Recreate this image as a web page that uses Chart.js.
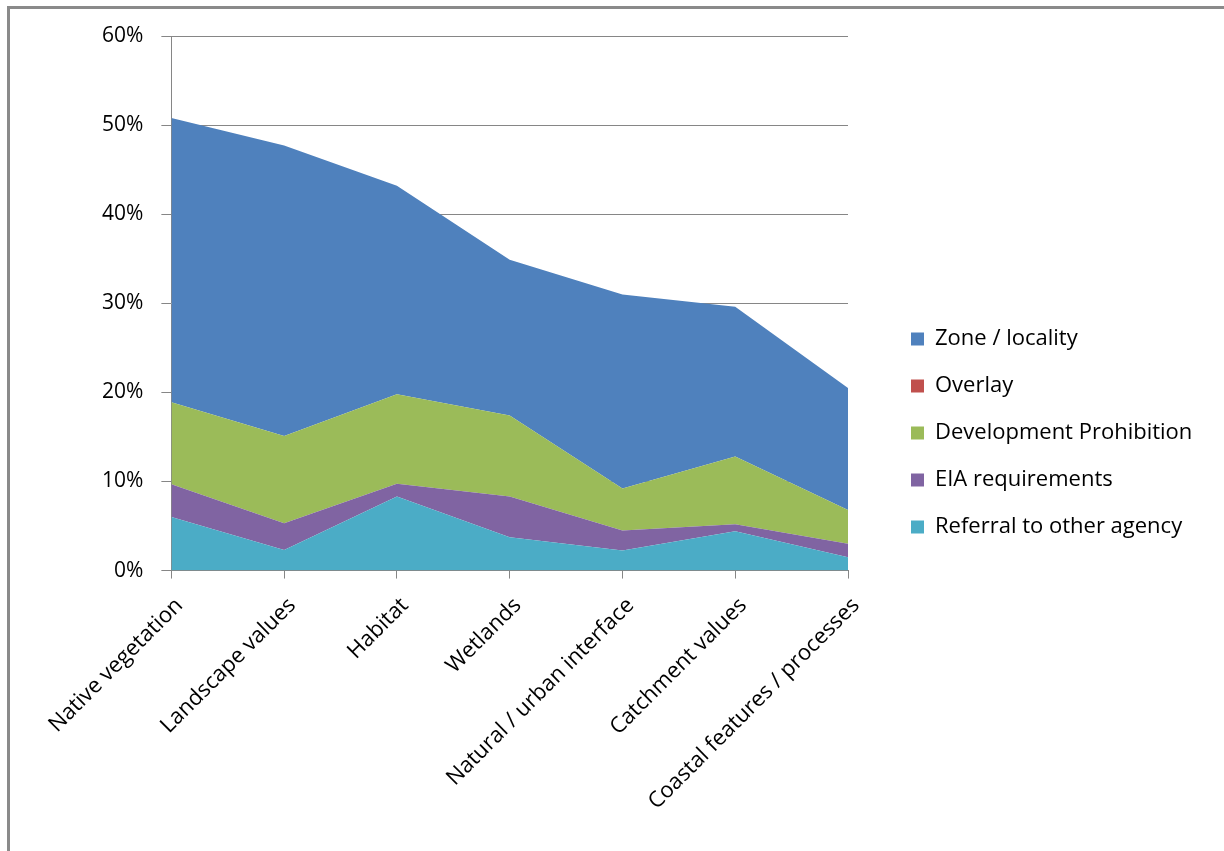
<!DOCTYPE html>
<html>
<head>
<meta charset="utf-8">
<script src="https://cdn.jsdelivr.net/npm/chart.js@4/dist/chart.umd.min.js"></script>
<style>
  body { margin: 0; background: #fff; overflow: hidden; }
  #frame { position: absolute; left: 7px; top: 6px; width: 1300px; height: 900px;
           border-top: 3px solid #8a8a8a; border-left: 3px solid #8a8a8a; }
  #myChart { position: absolute; left: 0; top: 0; }
</style>
</head>
<body>
<div id="frame"></div>
<canvas id="myChart" width="1224" height="851"></canvas>
<script>
var categories = ["Native vegetation", "Landscape values", "Habitat", "Wetlands",
    "Natural / urban interface", "Catchment values", "Coastal features / processes"];

// percent values, bottom of the stack first
var referral = [6.0, 2.3, 8.3, 3.75, 2.25, 4.4, 1.5];
var eiaRequirements = [3.7, 3.0, 1.45, 4.55, 2.25, 0.8, 1.5];
var devProhibition = [9.2, 9.8, 10.05, 9.1, 4.7, 7.6, 3.8];
var overlay = [0, 0, 0, 0, 0, 0, 0];
var zoneLocality = [31.9, 32.6, 23.4, 17.5, 21.8, 16.8, 13.7];

var yTicks = [0, 10, 20, 30, 40, 50, 60];

var font = "'Open Sans', sans-serif";

function area(label, data, color, fill) {
    return {
        label: label,
        data: data,
        backgroundColor: color,
        borderColor: color,
        borderWidth: 0,
        pointRadius: 0,
        fill: fill,
        tension: 0
    };
}

// make room between plot and legend, and put the legend where it sits in the picture
var legendSpace = {
    id: 'legendSpace',
    afterInit: function(chart) {
        var fit = chart.legend.fit;
        chart.legend.fit = function() {
            fit.call(this);
            this.width = 376;
        };
    },
    afterLayout: function(chart) {
        var l = chart.legend;
        l.left = 886;
        l.top = 303;
        l.bottom = 851;
    }
};

var ctx = document.getElementById("myChart").getContext('2d');

var myChart = new Chart(ctx, {
    type: 'line',
    data: {
        labels: categories,
        datasets: [
            area('Referral to other agency', referral, '#4BACC6', 'origin'),
            area('EIA requirements', eiaRequirements, '#8064A2', '-1'),
            area('Development Prohibition', devProhibition, '#9BBB59', '-1'),
            area('Overlay', overlay, '#C0504D', '-1'),
            area('Zone / locality', zoneLocality, '#4F81BD', '-1')
        ]
    },
    options: {
        responsive: false,
        animation: false,
        layout: {
            padding: { left: 84, top: 36, right: 0, bottom: 22 }
        },
        plugins: {
            legend: {
                position: 'right',
                align: 'start',
                reverse: true,
                labels: {
                    boxWidth: 13,
                    boxHeight: 13,
                    padding: 25,
                    color: '#000',
                    font: { family: font, size: 22 }
                }
            },
            tooltip: { enabled: false }
        },
        scales: {
            x: {
                offset: false,
                grid: {
                    drawOnChartArea: false,
                    drawTicks: true,
                    tickLength: 8,
                    color: '#868686'
                },
                border: { color: '#868686', width: 1 },
                ticks: {
                    minRotation: 45,
                    maxRotation: 45,
                    autoSkip: false,
                    padding: 14,
                    labelOffset: 8,
                    color: '#000',
                    font: { family: font, size: 22 }
                }
            },
            y: {
                stacked: true,
                min: 0,
                max: 60,
                afterBuildTicks: function(axis) {
                    axis.ticks = yTicks.map(function(v) { return { value: v }; });
                },
                grid: {
                    color: '#868686',
                    tickLength: 10,
                    drawTicks: true
                },
                border: { color: '#868686', width: 1 },
                ticks: {
                    padding: 18,
                    color: '#000',
                    font: { family: font, size: 21 },
                    callback: function(v) { return v + '%'; }
                }
            }
        }
    },
    plugins: [legendSpace]
});
</script>
</body>
</html>
